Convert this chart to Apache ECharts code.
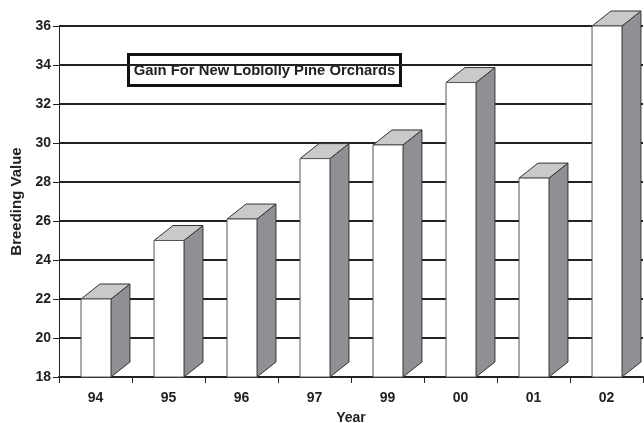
<!DOCTYPE html>
<html>
<head>
<meta charset="utf-8">
<script src="https://cdn.jsdelivr.net/npm/echarts@6/dist/echarts.min.js"></script>
<style>html,body{margin:0;padding:0;background:#fff;}#c{width:644px;height:423px;}</style>
</head>
<body>
<div id="c"></div>
<script>
var categories = ['94', '95', '96', '97', '99', '00', '01', '02'];
var values = [22, 25, 26.1, 29.2, 29.9, 33.1, 28.2, 36];
var yMin = 18, yMax = 36, yStep = 2;

var chart = echarts.init(document.getElementById('c'));
var font = 'Arial, "Liberation Sans", sans-serif';

chart.setOption({
  animation: false,
  backgroundColor: '#fff',
  grid: { left: 59, right: 1, top: 26, bottom: 46, containLabel: false, outerBoundsMode: 'none' },
  xAxis: {
    type: 'category',
    data: categories,
    name: 'Year',
    nameLocation: 'middle',
    nameGap: 34.5,
    nameTextStyle: { fontFamily: font, fontWeight: 'bold', fontSize: 14, color: '#222' },
    axisLine: { lineStyle: { color: '#222', width: 2 } },
    axisTick: { show: true, length: 6, alignWithLabel: false, lineStyle: { color: '#222', width: 1 } },
    axisLabel: { fontFamily: font, fontWeight: 'bold', fontSize: 14, color: '#222', margin: 14 },
    splitLine: { show: false }
  },
  yAxis: {
    type: 'value',
    min: yMin, max: yMax, interval: yStep,
    name: 'Breeding Value',
    nameLocation: 'middle',
    nameGap: 33,
    nameTextStyle: { fontFamily: font, fontWeight: 'bold', fontSize: 15, color: '#222' },
    axisLine: { show: true, lineStyle: { color: '#222', width: 1 } },
    axisTick: { show: true, length: 6, lineStyle: { color: '#222', width: 1 } },
    axisLabel: { fontFamily: font, fontWeight: 'bold', fontSize: 14, color: '#222', margin: 8 },
    splitLine: { show: true, lineStyle: { color: '#222', width: 2 } }
  },
  series: [{
    type: 'custom',
    clip: false,
    data: values.map(function (v, i) { return [i, v]; }),
    z: 5,
    renderItem: function (params, api) {
      var i = api.value(0), v = api.value(1);
      var top = api.coord([i, v]);
      var base = api.coord([i, yMin]);
      var band = api.size([1, 0])[0];
      var w = band * 0.41;
      var dx = band * 0.26;
      var dy = 15;
      var x0 = top[0] - w / 2 + 0.5, x1 = x0 + w;
      var yt = top[1], yb = base[1];
      var stroke = '#333';
      return {
        type: 'group',
        children: [
          { type: 'polygon', shape: { points: [[x1, yb], [x1 + dx, yb - dy], [x1 + dx, yt - dy], [x1, yt]] },
            style: { fill: '#909094', stroke: stroke, lineWidth: 1 } },
          { type: 'polygon', shape: { points: [[x0, yt], [x0 + dx, yt - dy], [x1 + dx, yt - dy], [x1, yt]] },
            style: { fill: '#c9c9c9', stroke: stroke, lineWidth: 1 } },
          { type: 'rect', shape: { x: x0, y: yt, width: w, height: yb - yt },
            style: { fill: '#fff', stroke: '#555', lineWidth: 1 } }
        ]
      };
    }
  }],
  graphic: [{
    type: 'group',
    left: 127, top: 53,
    z: 100,
    children: [
      { type: 'rect', shape: { x: 1.5, y: 1.5, width: 272, height: 31 },
        style: { fill: '#fff', stroke: '#111', lineWidth: 3 } },
      { type: 'text', style: { x: 137.5, y: 18, text: 'Gain For New Loblolly Pine Orchards',
        fontFamily: font, fontWeight: 'bold', fontSize: 14.8, fill: '#222', align: 'center', verticalAlign: 'middle' } }
    ]
  }]
});
</script>
</body>
</html>
